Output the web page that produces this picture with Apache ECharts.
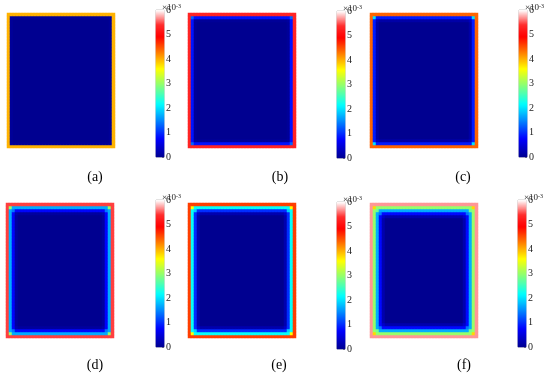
<!DOCTYPE html>
<html><head><meta charset="utf-8">
<script src="https://cdn.jsdelivr.net/npm/echarts@6/dist/echarts.min.js"></script>
<style>html,body{margin:0;padding:0;background:#fff}#c{width:550px;height:376px}</style>
</head><body><div id="c"></div>
<script>
// grid resolution of each field
const nCols = 36, nRows = 45;
// value (x10^-3) by depth from the boundary (side cells)
const profileA = [4.0, 0.05];
const profileB = [5.3, 0.85, 0.05];
const profileC = [4.4, 0.9, 0.15];
const profileD = [5.45, 1.7, 0.75, 0.1];
const profileE = [4.6, 2.2, 1.0, 0.2];
const profileF = [5.7, 3.0, 1.7, 0.8, 0.2];
// value of the diagonal corner cells by depth
const cornerA = [4.0, 0.1];
const cornerB = [5.3, 1.3, 0.1];
const cornerC = [4.4, 2.0, 0.3];
const cornerD = [5.45, 3.0, 1.4, 0.2];
const cornerE = [4.6, 3.6, 1.9, 0.4];
const cornerF = [5.7, 3.8, 2.8, 1.4, 0.4];
const panelLabels = ['(a)', '(b)', '(c)', '(d)', '(e)', '(f)'];
const colorbarTicks = [0, 1, 2, 3, 4, 5, 6];
const vMin = 0, vMax = 6;

const profiles = [profileA, profileB, profileC, profileD, profileE, profileF];
const corners = [cornerA, cornerB, cornerC, cornerD, cornerE, cornerF];

// layout
const fieldBoxes = [
  [7, 13], [188, 13], [370, 13],
  [6, 203], [188, 203], [370, 203]
];
const cellPx = 3;
const barBoxes = [
  [156, 10], [337, 11], [519, 10],
  [156, 200], [337, 202], [518, 200]
];
const barW = 8, barH = 147;
const labelPos = [[95, 177], [280, 177], [463, 177], [95, 365], [279, 365], [464, 365]];

// colormap (jet-like, red fading to white)
const stops = [
  [0, [0, 0, 144]], [0.125, [0, 0, 255]], [0.36, [0, 255, 255]],
  [0.6, [255, 255, 0]], [0.82, [255, 0, 0]], [0.9, [255, 45, 45]], [1, [255, 255, 255]]
];
function cmap(f) {
  for (let k = 1; k < stops.length; k++) {
    if (f <= stops[k][0]) {
      const [f0, c0] = stops[k - 1], [f1, c1] = stops[k];
      const t = (f - f0) / (f1 - f0);
      const c = c0.map((v, i) => Math.round(v + (c1[i] - v) * t));
      return 'rgb(' + c.join(',') + ')';
    }
  }
  return 'rgb(255,255,255)';
}
const colors = [];
for (let k = 0; k <= 60; k++) colors.push(cmap(k / 60));

function fieldData(g, cg) {
  const out = [];
  const gv = (arr, d) => (d < arr.length ? arr[d] : 0);
  for (let i = 0; i < nCols; i++) {
    for (let j = 0; j < nRows; j++) {
      const dx = Math.min(i, nCols - 1 - i), dy = Math.min(j, nRows - 1 - j);
      let v;
      if (Math.min(dx, dy) === 0) v = g[0];
      else if (dx === dy) v = gv(cg, dx);
      else v = Math.max(gv(g, dx), gv(g, dy));
      out.push([i, j, v]);
    }
  }
  return out;
}

const barCats = [], barData = [];
for (let k = 0; k < barH; k++) { barCats.push(k); barData.push([0, k, vMin + (vMax - vMin) * (k + 0.5) / barH]); }
const colCats = [], rowCats = [];
for (let i = 0; i < nCols; i++) colCats.push(i);
for (let j = 0; j < nRows; j++) rowCats.push(j);

const grid = [], xAxis = [], yAxis = [], series = [], graphic = [];
profiles.forEach((g, p) => {
  const [l, t] = fieldBoxes[p];
  grid.push({ left: l, top: t, width: nCols * cellPx, height: nRows * cellPx, containLabel: false });
  xAxis.push({ type: 'category', data: colCats, gridIndex: 2 * p, show: false });
  yAxis.push({ type: 'category', data: rowCats, gridIndex: 2 * p, show: false });
  series.push({ type: 'heatmap', xAxisIndex: xAxis.length - 1, yAxisIndex: yAxis.length - 1,
    data: fieldData(g, corners[p]), itemStyle: { borderWidth: 0 }, progressive: 0, emphasis: { disabled: true } });

  const [bl, bt] = barBoxes[p];
  grid.push({ left: bl, top: bt, width: barW, height: barH, show: true, borderColor: '#888', borderWidth: 0.6, backgroundColor: 'transparent' });
  xAxis.push({ type: 'category', data: ['c'], gridIndex: 2 * p + 1, show: false });
  yAxis.push({ type: 'category', data: barCats, gridIndex: 2 * p + 1, show: false });
  series.push({ type: 'heatmap', xAxisIndex: xAxis.length - 1, yAxisIndex: yAxis.length - 1,
    data: barData, itemStyle: { borderWidth: 0 }, progressive: 0, emphasis: { disabled: true } });
  yAxis.push({ type: 'value', gridIndex: 2 * p + 1, min: vMin, max: vMax, interval: 1, position: 'right',
    splitLine: { show: false }, axisLine: { show: false },
    axisTick: { show: true, inside: true, length: 2, lineStyle: { color: '#444', width: 0.6 } },
    axisLabel: { margin: 2, fontFamily: 'Liberation Serif', fontSize: 10, color: '#222',
      formatter: v => colorbarTicks.includes(v) ? String(v) : '' } });

  graphic.push({ type: 'text', left: bl + barW - 2, top: bt - 7,
    style: { text: '{a|×10}{b|-3}', rich: { a: { fontFamily: 'Liberation Serif', fontSize: 9, fill: '#222' },
      b: { fontFamily: 'Liberation Serif', fontSize: 6, fill: '#222', verticalAlign: 'top', padding: [0, 0, 4, 0] } } } });
  graphic.push({ type: 'text', x: labelPos[p][0], y: labelPos[p][1],
    style: { text: panelLabels[p], fontFamily: 'Liberation Serif', fontSize: 14, fill: '#000', align: 'center', verticalAlign: 'middle' } });
});

const chart = echarts.init(document.getElementById('c'), null, { renderer: 'canvas' });
chart.setOption({
  animation: false,
  grid, xAxis, yAxis, series, graphic,
  visualMap: { show: false, type: 'continuous', min: vMin, max: vMax, seriesIndex: series.map((s, i) => i),
    inRange: { color: colors } }
});
</script></body></html>
